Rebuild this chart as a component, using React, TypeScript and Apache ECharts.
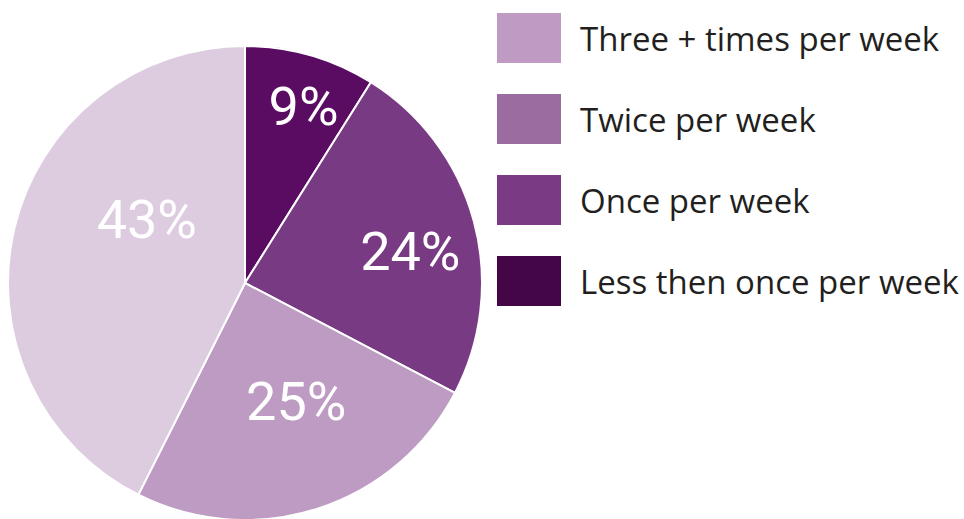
import React, { useEffect, useRef } from "react";
import * as echarts from "echarts";

const categories = ["Less then once per week", "Once per week", "Twice per week", "Three + times per week"];
const values = [9, 24, 25, 43];
const sliceColors = ["#5a0c62", "#793a84", "#bd9bc3", "#ddcce0"];
const legendOrder = ["Three + times per week", "Twice per week", "Once per week", "Less then once per week"];
const legendColors = ["#bf9bc4", "#9a6ca0", "#7a3a84", "#440646"];
const labelShift = [
  [25, -60],
  [48, 0],
  [14, 3],
  [20, -35],
];

export default function App() {
  const ref = useRef<HTMLDivElement>(null);
  useEffect(() => {
    if (!ref.current) return;
    const chart = echarts.init(ref.current, null, { renderer: "svg" });
    chart.setOption({
      animation: false,
      backgroundColor: "#ffffff",
      legend: {
        orient: "vertical",
        left: 490,
        top: 6,
        itemWidth: 66,
        itemHeight: 52,
        itemGap: 27,
        icon: "rect",
        selectedMode: false,
        textStyle: {
          fontFamily: "Open Sans",
          fontSize: 33,
          lineHeight: 36,
          color: "#231f20",
          padding: [14, 0, 0, 13],
        },
        data: legendOrder.map((n, i) => ({ name: n, itemStyle: { color: legendColors[i] } })),
      },
      series: [
        {
          type: "pie",
          center: [245, 283],
          radius: 237,
          startAngle: 90,
          clockwise: true,
          itemStyle: { borderColor: "#ffffff", borderWidth: 2 },
          label: {
            show: true,
            position: "inside",
            formatter: "{c}%",
            color: "#ffffff",
            fontFamily: "Roboto",
            fontSize: 54,
          },
          labelLayout: (p: any) => ({ dx: labelShift[p.dataIndex][0], dy: labelShift[p.dataIndex][1] }),
          labelLine: { show: false },
          emphasis: { disabled: true },
          data: categories.map((n, i) => ({ name: n, value: values[i], itemStyle: { color: sliceColors[i] } })),
        },
      ],
    });
    return () => chart.dispose();
  }, []);
  return <div ref={ref} style={{ position: "fixed", left: 0, top: 0, width: 964, height: 519 }} />;
}
